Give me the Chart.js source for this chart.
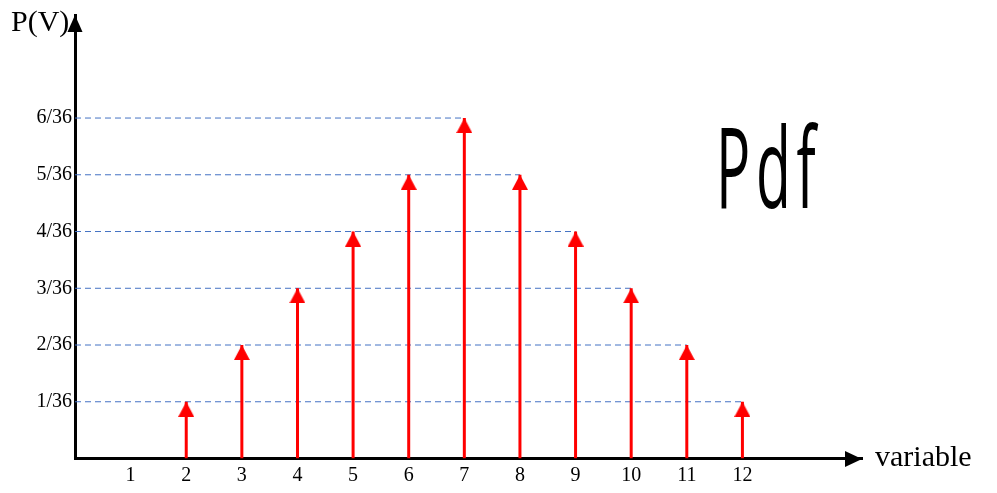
<!DOCTYPE html>
<html>
<head>
<meta charset="utf-8">
<script src="https://cdn.jsdelivr.net/npm/chart.js@4.4.1/dist/chart.umd.min.js"></script>
<style>
  html, body { margin: 0; padding: 0; background: #fff; }
  #wrap { width: 997px; height: 493px; }
</style>
</head>
<body>
<div id="wrap"><canvas id="c" width="997" height="493"></canvas></div>
<script>
// Sum of two dice: outcomes and number of ways (out of 36)
const outcomes = [2, 3, 4, 5, 6, 7, 8, 9, 10, 11, 12];
const ways = [1, 2, 3, 4, 5, 6, 5, 4, 3, 2, 1];
const xTickLabels = ['1', '2', '3', '4', '5', '6', '7', '8', '9', '10', '11', '12'];
const yTickLabels = ['1/36', '2/36', '3/36', '4/36', '5/36', '6/36'];

const RED = '#ff0000';
const BLUE = '#4472c4';

// stems: one segment per outcome, separated by gaps
const stemPoints = [];
outcomes.forEach((x, i) => {
  stemPoints.push({ x: x, y: 0 }, { x: x, y: ways[i] }, { x: x, y: null });
});

// dashed guides: from the y axis to the right-most outcome at each level
const guidePoints = [];
yTickLabels.forEach((_, k) => {
  const level = k + 1;
  let lastX = 0;
  outcomes.forEach((x, i) => { if (ways[i] === level) lastX = Math.max(lastX, x); });
  guidePoints.push({ x: 0, y: level }, { x: lastX, y: level }, { x: lastX, y: null });
});

// arrow head whose tip sits at the point centre
function makeHead(w, h, color) {
  const cv = document.createElement('canvas');
  cv.width = w; cv.height = h * 2;
  const g = cv.getContext('2d');
  g.fillStyle = color;
  g.beginPath();
  g.moveTo(w / 2, h);
  g.lineTo(w, h * 2);
  g.lineTo(0, h * 2);
  g.closePath();
  g.fill();
  return cv;
}
const head = makeHead(16, 15, RED);

// axis arrows and free text
const decor = {
  id: 'decor',
  afterDraw(chart) {
    const { ctx, chartArea: a } = chart;
    const bottom = Math.round(a.bottom);
    ctx.save();
    ctx.fillStyle = '#000';
    // y axis arrow
    ctx.beginPath();
    ctx.moveTo(a.left, a.top);
    ctx.lineTo(a.left + 7.5, a.top + 17);
    ctx.lineTo(a.left - 7.5, a.top + 17);
    ctx.closePath();
    ctx.fill();
    // x axis arrow
    ctx.beginPath();
    ctx.moveTo(a.right, bottom);
    ctx.lineTo(a.right - 17, bottom - 8);
    ctx.lineTo(a.right - 17, bottom + 8);
    ctx.closePath();
    ctx.fill();
    // axis titles
    ctx.font = '30px "Liberation Serif", serif';
    ctx.textBaseline = 'alphabetic';
    ctx.textAlign = 'left';
    ctx.fillText('P(V)', 11, 31);
    ctx.fillText('variable', 875, 466);
    // handwritten note
    ctx.translate(716, 208);
    ctx.scale(0.95, 1.85);
    ctx.letterSpacing = '6px';
    ctx.font = '400 60px "Open Sans", sans-serif';
    ctx.fillText('Pdf', 0, 0);
    ctx.restore();
  }
};

new Chart(document.getElementById('c'), {
  type: 'scatter',
  data: {
    datasets: [
      {
        data: guidePoints,
        showLine: true,
        spanGaps: false,
        borderColor: BLUE,
        borderWidth: 1,
        borderDash: [6, 4],
        pointRadius: 0,
        order: 3
      },
      {
        data: stemPoints,
        showLine: true,
        spanGaps: false,
        borderColor: RED,
        borderWidth: 3,
        pointRadius: 0,
        order: 2
      },
      {
        data: outcomes.map((x, i) => ({ x: x, y: ways[i] })),
        showLine: false,
        pointStyle: head,
        pointRadius: 8,
        order: 1
      }
    ]
  },
  options: {
    responsive: false,
    animation: false,
    events: [],
    layout: { padding: { left: 0, right: 135, top: 13, bottom: 0 } },
    plugins: { legend: { display: false }, tooltip: { enabled: false } },
    scales: {
      x: {
        type: 'linear',
        min: 0,
        max: 14.15,
        afterFit: (s) => { s.height = 34.5; },
        grid: { display: false, drawTicks: false },
        border: { display: true, color: '#000', width: 3 },
        ticks: {
          stepSize: 1,
          padding: 5,
          color: '#000',
          maxRotation: 0,
          autoSkip: false,
          font: { family: '"Liberation Serif", serif', size: 20 },
          callback: (v) => (Number.isInteger(v) && v >= 1 && v <= xTickLabels.length) ? xTickLabels[v - 1] : ''
        }
      },
      y: {
        type: 'linear',
        min: 0,
        max: 7.8158,
        afterFit: (s) => { s.width = 75; },
        grid: { display: false, drawTicks: false },
        border: { display: true, color: '#000', width: 3 },
        ticks: {
          stepSize: 1,
          padding: 3,
          color: '#000',
          autoSkip: false,
          font: { family: '"Liberation Serif", serif', size: 20 },
          callback: (v) => (Number.isInteger(v) && v >= 1 && v <= yTickLabels.length) ? yTickLabels[v - 1] : ''
        }
      }
    }
  },
  plugins: [decor]
});
</script>
</body>
</html>
